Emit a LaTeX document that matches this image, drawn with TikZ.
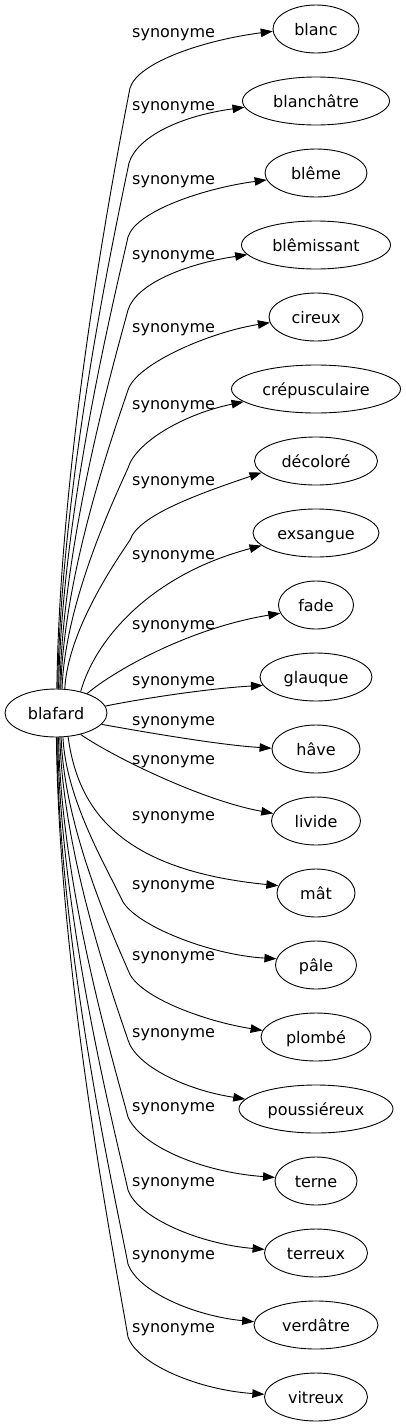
\documentclass[tikz,border=0pt]{standalone}
\usepackage{fontspec}
\setmainfont{DejaVu Sans}
\usetikzlibrary{shapes.geometric,arrows.meta}
\begin{document}
\begin{tikzpicture}[x=1pt,y=-1pt,
  word/.style={ellipse,draw,line width=0.9pt,inner sep=0pt,minimum height=48pt,
    text height=12pt,text depth=0pt,font=\fontsize{16pt}{19pt}\selectfont},
  lbl/.style={anchor=base west,inner sep=0pt,font=\fontsize{16pt}{19pt}\selectfont},
  syn/.style={draw,line width=0.9pt,-{Triangle[length=12pt,width=8.5pt]}}]
\useasboundingbox (0,0) rectangle (406,1427);
% nodes
\node[word,minimum width=102pt] (blafard) at (56,713) {blafard};
\node[word,minimum width=86pt]  (blanc)   at (316,29)   {blanc};
\node[word,minimum width=147pt] (blanch)  at (316,101)  {blanchâtre};
\node[word,minimum width=102pt] (bleme)   at (316,173)  {blême};
\node[word,minimum width=149pt] (blemi)   at (316,245)  {blêmissant};
\node[word,minimum width=94pt]  (cireux)  at (316,317)  {cireux};
\node[word,minimum width=169pt] (crep)    at (316,389)  {crépusculaire};
\node[word,minimum width=123pt] (deco)    at (316,461)  {décoloré};
\node[word,minimum width=126pt] (exs)     at (316,533)  {exsangue};
\node[word,minimum width=75pt]  (fade)    at (316,605)  {fade};
\node[word,minimum width=112pt] (glauque) at (316,677)  {glauque};
\node[word,minimum width=88pt]  (have)    at (316,749)  {hâve};
\node[word,minimum width=89pt]  (livide)  at (316,821)  {livide};
\node[word,minimum width=78pt]  (mat)     at (316,893)  {mât};
\node[word,minimum width=81pt]  (pale)    at (316,965)  {pâle};
\node[word,minimum width=110pt] (plombe)  at (316,1037) {plombé};
\node[word,minimum width=154pt] (pouss)   at (316,1109) {poussiéreux};
\node[word,minimum width=82pt]  (terne)   at (316,1181) {terne};
\node[word,minimum width=103pt] (terreux) at (316,1253) {terreux};
\node[word,minimum width=124pt] (verd)    at (316,1325) {verdâtre};
\node[word,minimum width=103pt] (vitreux) at (316,1397) {vitreux};
% labels
\node[lbl] (l0)  at (132,37)   {synonyme};
\node[lbl] (l1)  at (132,110.5){synonyme};
\node[lbl] (l2)  at (132,184)  {synonyme};
\node[lbl] (l3)  at (132,259)  {synonyme};
\node[lbl] (l4)  at (132,332)  {synonyme};
\node[lbl] (l5)  at (132,409)  {synonyme};
\node[lbl] (l6)  at (132,485.5){synonyme};
\node[lbl] (l7)  at (132,559)  {synonyme};
\node[lbl] (l8)  at (132,629)  {synonyme};
\node[lbl] (l9)  at (132,685.5){synonyme};
\node[lbl] (l10) at (132,725.5){synonyme};
\node[lbl] (l11) at (132,764)  {synonyme};
\node[lbl] (l12) at (132,820.5){synonyme};
\node[lbl] (l13) at (132,889)  {synonyme};
\node[lbl] (l14) at (132,960.5){synonyme};
\node[lbl] (l15) at (132,1037) {synonyme};
\node[lbl] (l16) at (132,1111) {synonyme};
\node[lbl] (l17) at (132,1186) {synonyme};
\node[lbl] (l18) at (132,1259) {synonyme};
\node[lbl] (l19) at (132,1332.5){synonyme};
% edges
\draw[syn] (blafard.88) .. controls (60,449) and (116,160) .. (130,88) .. controls (138,62) and (205,40) .. (blanc.183);
\draw[syn] (blafard.86) .. controls (61,479) and (116,226) .. (129,163) .. controls (137,137) and (180,116) .. (blanch.185);
\draw[syn] (blafard.84) .. controls (62,508) and (116,291) .. (128,237) .. controls (136,211) and (205,188) .. (bleme.188);
\draw[syn] (blafard.81) .. controls (63,537) and (116,355) .. (128,310) .. controls (136,284) and (185,264) .. (blemi.188);
\draw[syn] (blafard.79) .. controls (64,569) and (116,426) .. (128,390) .. controls (136,364) and (210,332) .. (cireux.187);
\draw[syn] (blafard.76) .. controls (65,601) and (116,495) .. (128,468) .. controls (136,442) and (184,414) .. (crep.190);
\draw[syn] (blafard.70) .. controls (68,629) and (118,558) .. (130,540) .. controls (138,516) and (195,495) .. (deco.192);
\draw[syn] (blafard.41) .. controls (95,640) and (150,575) .. (exs.193);
\draw[syn] (blafard.32) .. controls (115,670) and (190,628) .. (fade.193);
\draw[syn] (blafard.8) .. controls (150,697) and (215,688) .. (glauque.189);
\draw[syn] (blafard.-14) .. controls (150,733) and (220,745) .. (have.179);
\draw[syn] (blafard.-41) .. controls (110,755) and (200,800) .. (livide.170);
\draw[syn] (blafard.-63) .. controls (78,810) and (120,870) .. (mat.169);
\draw[syn] (blafard.-74) .. controls (66,800) and (108,870) .. (122,900) .. controls (134,925) and (210,955) .. (pale.171);
\draw[syn] (blafard.-78) .. controls (64,830) and (116,942) .. (128,970) .. controls (136,996) and (203,1021) .. (plombe.173);
\draw[syn] (blafard.-81) .. controls (63,858) and (116,1004) .. (128,1040) .. controls (136,1066) and (186,1090) .. (pouss.172);
\draw[syn] (blafard.-84) .. controls (61,889) and (116,1071) .. (128,1117) .. controls (140,1145) and (200,1172) .. (terne.175);
\draw[syn] (blafard.-86) .. controls (60,918) and (116,1136) .. (128,1190) .. controls (138,1218) and (200,1244) .. (terreux.176);
\draw[syn] (blafard.-88) .. controls (59,948) and (116,1201) .. (128,1264) .. controls (138,1292) and (195,1316) .. (verd.177);
\draw[syn] (blafard.-89.5) .. controls (59,977) and (116,1265) .. (128,1337) .. controls (138,1365) and (200,1390) .. (vitreux.177);
\end{tikzpicture}
\end{document}
